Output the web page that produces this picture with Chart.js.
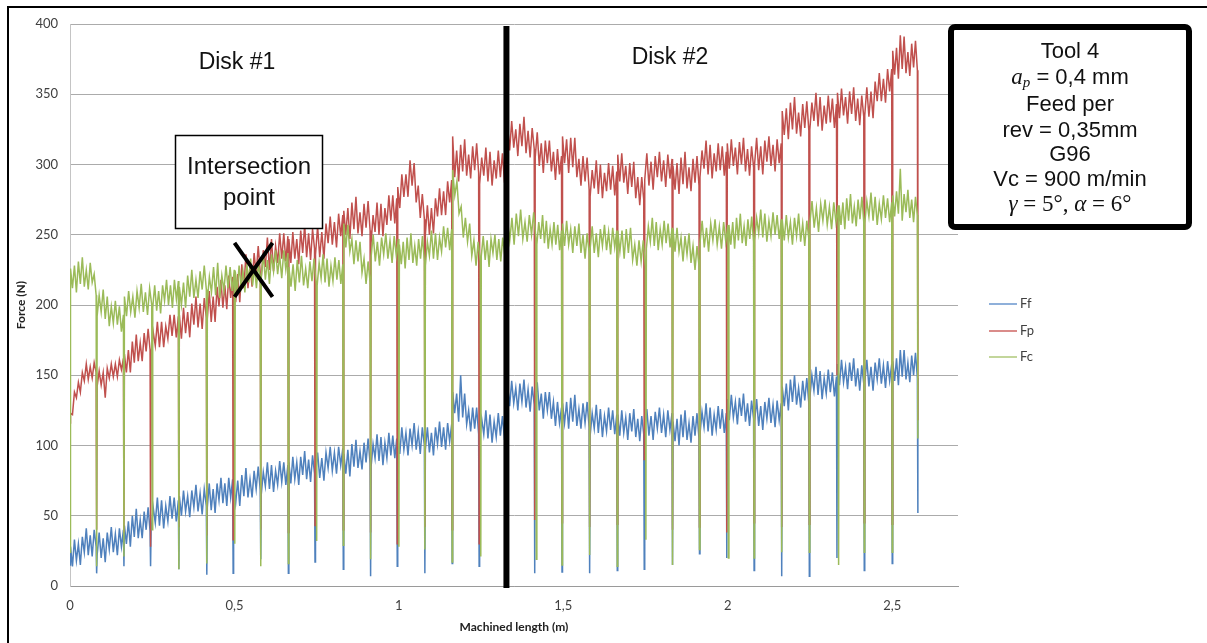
<!DOCTYPE html>
<html><head><meta charset="utf-8">
<script src="https://cdn.jsdelivr.net/npm/chart.js@4.4.0/dist/chart.umd.min.js"></script>
<style>html,body{margin:0;padding:0;background:#fff;overflow:hidden}canvas{display:block}</style>
</head><body>
<canvas id="c" width="1207" height="643"></canvas>
<script>
// ---- data ----
const seriesNames = ['Ff', 'Fp', 'Fc'];
const xTicks = [0, 0.5, 1, 1.5, 2, 2.5];
const yTicks = [0, 50, 100, 150, 200, 250, 300, 350, 400];
// start of each machining pass (m); a short force drop occurs at every start
const segStarts = [0, 0.081, 0.164, 0.245, 0.331, 0.416, 0.496, 0.580, 0.664, 0.745,
  0.831, 0.914, 0.995, 1.079, 1.162, 1.244, 1.329, 1.413, 1.496, 1.580,
  1.664, 1.746, 1.832, 1.914, 1.997, 2.080, 2.164, 2.248, 2.332, 2.415, 2.500];
const dataEnd = 2.578;
const diskBoundary = 1.327;

const ffDips = [15, 9, 14, 14, 12, 8, 9, 19, 9, 17, 12, 7, 14, 9, 16, 14, 12, 9, 10, 9, 11, 12, 15, 23, 20, 11, 7, 7, 20, 11, 16];
const fpDips = [116, 40, 38, 28, 42, 36, 33, 40, 38, 43, 40, 38, 30, 42, 40, 30, 40, 47, 45, 42, 44, 90, 40, 42, 38, 45, 42, 44, 150, 45, 44];
const fcDips = [24, 14, 21, 40, 12, 16, 30, 14, 16, 32, 29, 19, 28, 26, 17, 21, 20, 19, 15, 22, 14, 33, 15, 26, 20, 20, 24, 24, 15, 24, 24];
const fcDipShift = [0,0,0,0.005,0,0,0.005,0,0,0.005,0,0,0.005,0,0,0.005,0,0.005,0,0,0,0.005,0,0,0.005,0,0,0,0.005,0,0];
const ffEnd = 52, fpEnd = 118, fcEnd = 105;

const ffValues = [
 28,14,33,18,30,15,35,24,41,22,36,21,40,28,
 22,38,20,34,17,38,26,42,24,37,22,41,28,40,
 43,30,46,28,50,35,55,34,47,34,53,40,56,39,
 39,56,45,63,43,61,41,57,46,64,48,63,46,61,
 64,50,68,53,64,49,68,56,72,53,66,51,69,57,
 56,73,54,69,52,73,61,77,59,73,57,77,63,76,
 72,59,75,57,79,64,84,63,76,63,82,69,85,68,
 65,81,71,88,69,86,67,82,72,89,74,88,72,86,
 88,73,92,76,88,72,92,79,96,76,90,74,93,80,
 79,95,77,91,75,95,84,99,82,95,80,99,86,98,
 94,80,97,78,101,85,104,84,96,83,102,88,105,87,
 85,101,91,108,89,106,86,102,91,109,93,107,91,105,
 109,94,113,97,109,93,112,100,116,97,110,94,113,100,
 97,113,95,109,93,113,101,117,99,113,97,116,103,115,
 138,123,137,117,150,120,137,115,125,110,127,112,127,108,
 103,119,108,125,105,122,102,117,106,123,107,121,104,118,
 143,128,146,130,141,125,144,131,147,127,140,124,142,129,
 130,145,125,137,119,138,125,138,119,131,114,131,116,127,
 130,116,131,112,134,117,136,114,126,112,130,116,131,113,
 107,123,112,129,109,126,106,121,110,127,111,125,108,122,
 122,107,125,109,120,104,123,110,126,106,119,103,121,108,
 110,126,107,121,104,124,112,127,109,122,106,125,111,123,
 117,103,119,100,122,106,125,104,116,102,121,107,123,105,
 108,124,113,130,110,127,107,122,111,128,112,126,109,123,
 133,118,136,120,131,115,134,121,137,117,130,114,132,119,
 117,133,114,128,111,131,119,134,116,129,113,132,118,130,
 142,128,144,125,147,131,150,129,141,127,146,132,148,130,
 134,150,139,156,136,153,133,148,137,154,138,152,135,149,
 158,143,161,145,156,140,159,146,162,142,155,139,157,144,
 145,161,142,156,139,159,147,162,144,157,141,160,146,158,
 160,146,162,143,168,149,168,147,159,145,164,150,166,148];

const fpValues = [
 123,122,138,134,145,138,152,146,158,147,156,148,159,152,
 142,153,143,152,134,155,148,158,149,158,149,161,154,162,
 165,152,168,152,174,159,179,160,173,160,180,167,183,168,
 164,181,171,188,170,188,170,185,176,193,178,193,177,192,
 193,176,198,180,195,177,201,186,206,184,201,183,205,191,
 190,210,188,206,188,213,199,218,198,214,197,221,205,220,
 217,202,222,202,229,212,236,212,228,213,237,222,242,223,
 219,239,227,248,225,247,224,242,230,251,233,251,231,249,
 247,230,252,233,247,229,253,237,257,234,251,232,254,240,
 236,256,234,252,233,258,244,263,243,259,241,265,249,264,
 267,250,269,247,273,254,277,251,266,249,272,255,274,253,
 244,264,252,273,250,272,249,269,257,278,260,278,258,276,
 284,269,293,277,293,277,303,285,301,273,285,262,279,261,
 250,271,250,269,251,276,263,283,264,281,264,288,273,289,
 320,291,310,288,314,295,318,292,307,290,313,296,315,294,
 286,305,292,312,288,309,285,303,290,310,291,308,287,304,
 328,310,331,312,325,306,329,313,334,308,324,305,326,311,
 305,323,299,315,294,317,301,317,295,309,289,311,293,306,
 320,301,318,294,319,298,319,291,304,285,306,288,305,282,
 277,296,283,303,279,300,276,294,281,301,282,299,278,295,
 307,288,308,287,299,279,301,284,302,276,291,271,291,275,
 289,308,285,302,282,306,291,309,288,303,284,307,290,304,
 299,282,301,279,305,286,309,283,298,281,304,287,306,285,
 291,310,297,317,293,314,290,308,295,315,296,313,292,309,
 315,297,318,299,312,293,316,300,319,295,311,292,313,298,
 300,319,296,313,293,317,302,320,299,314,295,318,301,315,
 338,321,340,318,344,325,348,322,337,320,343,326,345,324,
 325,344,331,351,327,348,324,342,329,349,330,347,326,343,
 351,333,354,335,348,329,352,336,355,331,347,328,349,334,
 335,355,334,352,333,359,345,365,345,361,344,368,352,368,
 381,364,383,361,392,368,391,365,380,363,386,369,388,367];

const fcValues = [
 226,212,228,209,231,215,234,213,225,211,230,216,222,207,
 192,207,195,211,190,206,185,199,187,203,186,199,181,193,
 206,192,210,195,206,191,210,198,215,195,209,193,212,200,
 198,214,196,210,194,214,203,218,200,214,198,218,204,217,
 213,200,216,198,221,206,225,205,218,205,224,211,228,211,
 203,220,209,227,207,230,205,221,210,228,212,227,210,225,
 224,210,228,213,224,209,229,216,233,214,227,212,230,218,
 220,236,218,232,215,236,224,239,222,235,219,239,225,237,
 227,213,229,210,232,216,235,214,226,212,231,217,233,215,
 214,230,219,236,216,233,213,228,217,234,218,232,215,229,
 258,241,257,238,247,229,246,231,245,223,233,215,231,216,
 234,250,231,245,228,248,236,251,233,246,230,249,235,247,
 243,229,245,226,248,232,251,230,242,228,247,233,249,231,
 228,245,235,253,233,251,232,248,238,256,241,255,239,254,
 296,278,288,265,270,248,262,245,258,235,246,228,245,231,
 235,249,232,246,227,247,237,250,232,247,231,248,236,246,
 260,246,262,243,265,249,268,247,259,245,264,250,266,248,
 243,259,247,264,244,260,240,254,243,259,243,257,239,253,
 258,242,260,243,254,237,256,242,258,237,250,233,251,237,
 240,256,237,251,234,254,242,257,239,252,236,255,241,253,
 253,238,253,233,254,237,255,232,243,228,246,231,246,227,
 240,256,245,262,242,259,239,254,243,260,244,258,241,255,
 254,238,255,238,248,231,249,236,251,230,242,225,242,228,
 244,260,241,255,238,258,246,261,243,256,240,259,245,257,
 257,243,259,240,262,246,265,244,256,242,261,247,263,245,
 246,262,251,268,248,265,245,260,249,266,250,264,247,261,
 261,246,264,248,259,243,262,249,265,245,258,242,260,247,
 258,274,255,269,252,272,260,275,257,270,254,273,259,271,
 271,257,273,254,276,260,279,258,270,256,275,261,277,259,
 258,274,263,280,260,277,257,272,261,278,262,276,259,273,
 278,263,281,265,297,260,279,266,282,262,275,259,277,264];

// ---- build point lists (x positions spread evenly within each pass) ----
function buildSeries(values, dips, shifts, endVal) {
  const per = values.length / segStarts.length;
  const starts = segStarts.map((s, i) => s + (shifts ? shifts[i] : 0));
  const pts = [];
  for (let i = 0; i < starts.length; i++) {
    const s = starts[i];
    const e = i + 1 < starts.length ? starts[i + 1] : dataEnd;
    pts.push({x: s, y: dips[i]});
    const a = s + 0.0015, b = e - 0.0015;
    for (let j = 0; j < per; j++) {
      pts.push({x: a + (b - a) * j / (per - 1), y: values[i * per + j]});
    }
  }
  pts.push({x: dataEnd, y: endVal});
  return pts;
}

const colors = {Ff: '#4F81BD', Fp: '#C0504D', Fc: '#9BBB59'};
const legendColors = {Ff: '#8FB0DA', Fp: '#DA8C8A', Fc: '#C3D69B'};

const annot = {
  id: 'annot',
  afterDraw(chart) {
    const ctx = chart.ctx;
    const xs = chart.scales.x, ys = chart.scales.y;
    const ca = chart.chartArea;
    ctx.save();
    ctx.strokeStyle = '#000'; ctx.lineWidth = 2;
    ctx.beginPath(); ctx.moveTo(8, 643); ctx.lineTo(8, 7); ctx.lineTo(1207, 7); ctx.stroke();

    const bx = xs.getPixelForValue(diskBoundary);
    ctx.lineWidth = 6; ctx.beginPath(); ctx.moveTo(bx, ca.top + 2); ctx.lineTo(bx, ca.bottom + 2); ctx.stroke();

    const ix = xs.getPixelForValue(0.558), iy = ys.getPixelForValue(225);
    ctx.lineWidth = 4; ctx.beginPath();
    ctx.moveTo(ix - 19, iy - 27); ctx.lineTo(ix + 19, iy + 27);
    ctx.moveTo(ix + 19, iy - 27); ctx.lineTo(ix - 19, iy + 27);
    ctx.stroke();

    ctx.fillStyle = '#111';
    ctx.textAlign = 'center'; ctx.textBaseline = 'middle';
    ctx.font = '23px "Liberation Sans", Arial, sans-serif';
    ctx.fillText('Disk #1', 237, 63);
    ctx.fillText('Disk #2', 670, 58);

    ctx.fillStyle = '#fff'; ctx.fillRect(175, 135, 148, 94);
    ctx.strokeStyle = '#000'; ctx.lineWidth = 1.5; ctx.strokeRect(175.5, 135.5, 147, 93);
    ctx.fillStyle = '#111';
    ctx.font = '24px "Liberation Sans", Arial, sans-serif';
    ctx.fillText('Intersection', 249, 167);
    ctx.fillText('point', 249, 198);

    ctx.fillStyle = '#fff';
    ctx.beginPath(); ctx.roundRect(951, 27, 238, 200, 4); ctx.fill();
    ctx.lineWidth = 6; ctx.strokeStyle = '#000'; ctx.stroke();
    ctx.fillStyle = '#111';
    const sans = '22px "Liberation Sans", Arial, sans-serif';
    const ital = 'italic 23px "Liberation Serif", serif';
    const serif = '23px "Liberation Serif", serif';
    const sub = 'italic 15px "Liberation Serif", serif';
    const cx = 1070;
    function runs(list, y) {
      let w = 0;
      list.forEach(r => { ctx.font = r.f; w += ctx.measureText(r.t).width; });
      let x = cx - w / 2;
      ctx.textAlign = 'left';
      list.forEach(r => { ctx.font = r.f; ctx.fillText(r.t, x, y + (r.dy || 0)); x += ctx.measureText(r.t).width; });
      ctx.textAlign = 'center';
    }
    runs([{t: 'Tool 4', f: sans}], 52);
    runs([{t: 'a', f: ital}, {t: 'p', f: sub, dy: 5}, {t: ' = 0,4 mm', f: sans}], 78);
    runs([{t: 'Feed per', f: sans}], 105);
    runs([{t: 'rev = 0,35mm', f: sans}], 131);
    runs([{t: 'G96', f: sans}], 155);
    runs([{t: 'Vc = 900 m/min', f: sans}], 180);
    runs([{t: 'γ', f: ital}, {t: ' = 5°, ', f: serif}, {t: 'α', f: ital}, {t: ' = 6°', f: serif}], 205);

    const ly = [304, 331, 357];
    seriesNames.forEach((n, i) => {
      ctx.strokeStyle = legendColors[n]; ctx.lineWidth = 2;
      ctx.beginPath(); ctx.moveTo(989, ly[i]); ctx.lineTo(1017, ly[i]); ctx.stroke();
      ctx.fillStyle = '#404040'; ctx.font = '13px Lato, sans-serif'; ctx.textAlign = 'left';
      ctx.fillText(n, 1020, ly[i]);
    });

    ctx.fillStyle = '#222'; ctx.font = 'bold 12px Lato, sans-serif'; ctx.textAlign = 'center';
    ctx.fillText('Machined length (m)', (ca.left + ca.right) / 2, 627);
    ctx.translate(21, (ca.top + ca.bottom) / 2); ctx.rotate(-Math.PI / 2);
    ctx.fillText('Force (N)', 0, 0);
    ctx.restore();
  }
};

new Chart(document.getElementById('c'), {
  type: 'line',
  data: {
    datasets: [
      {label: 'Ff', data: buildSeries(ffValues, ffDips, null, ffEnd), borderColor: colors.Ff, order: 3},
      {label: 'Fp', data: buildSeries(fpValues, fpDips, null, fpEnd), borderColor: colors.Fp, order: 2},
      {label: 'Fc', data: buildSeries(fcValues, fcDips, fcDipShift, fcEnd), borderColor: colors.Fc, order: 1}
    ]
  },
  options: {
    responsive: false, animation: false,
    layout: {padding: {top: 24, right: 249, left: 0, bottom: 0}},
    plugins: {legend: {display: false}, tooltip: {enabled: false}},
    elements: {point: {radius: 0}, line: {borderWidth: 1.5, tension: 0}},
    scales: {
      x: {
        type: 'linear', min: 0, max: 2.7,
        afterBuildTicks: s => { s.ticks = xTicks.map(v => ({value: v})); },
        afterFit: s => { s.height = 57; },
        grid: {display: false, drawTicks: false},
        border: {display: true, color: '#9A9A9A', width: 1},
        ticks: {padding: 12, color: '#404040', font: {family: 'Lato', size: 13}, maxRotation: 0, autoSkip: false,
          callback: v => String(v).replace('.', ',')}
      },
      y: {
        type: 'linear', min: 0, max: 400,
        afterBuildTicks: s => { s.ticks = yTicks.map(v => ({value: v})); },
        afterFit: s => { s.width = 70; },
        grid: {color: '#ABABAB', drawTicks: false},
        border: {display: true, color: '#C4C4C4', width: 1},
        ticks: {padding: 12, color: '#404040', font: {family: 'Lato', size: 13}}
      }
    }
  },
  plugins: [annot]
});
</script>
</body></html>
